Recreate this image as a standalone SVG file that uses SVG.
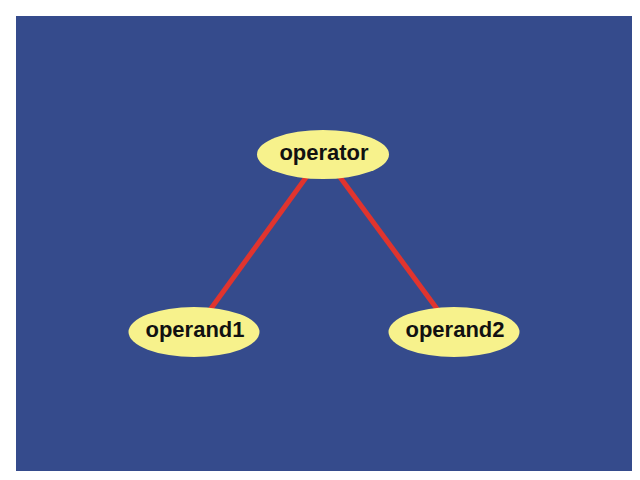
<svg xmlns="http://www.w3.org/2000/svg" width="640" height="480" viewBox="0 0 640 480">
<style>
.edge{stroke:#e0342e;stroke-width:5;fill:none}
.node ellipse{fill:#f7f28c;stroke:none}
.node text{font-family:"Liberation Sans",Arial,sans-serif;font-weight:bold;font-size:22px;fill:#111;text-anchor:middle}
</style>
<rect x="0" y="0" width="640" height="480" fill="#ffffff"/>
<rect x="16" y="16" width="616" height="455" fill="#354b8c"/>
<g id="connectors">
<line class="edge" x1="323" y1="154" x2="194" y2="332"/>
<line class="edge" x1="323" y1="154" x2="454" y2="332"/>
</g>
<g id="operator" class="node">
<ellipse cx="323" cy="154.5" rx="66" ry="24.5"/>
<text x="324" y="160">operator</text>
</g>
<g id="operand1" class="node">
<ellipse cx="194" cy="332" rx="65.5" ry="25"/>
<text x="195" y="337">operand1</text>
</g>
<g id="operand2" class="node">
<ellipse cx="454" cy="332" rx="65.5" ry="25"/>
<text x="455" y="337">operand2</text>
</g>
</svg>
